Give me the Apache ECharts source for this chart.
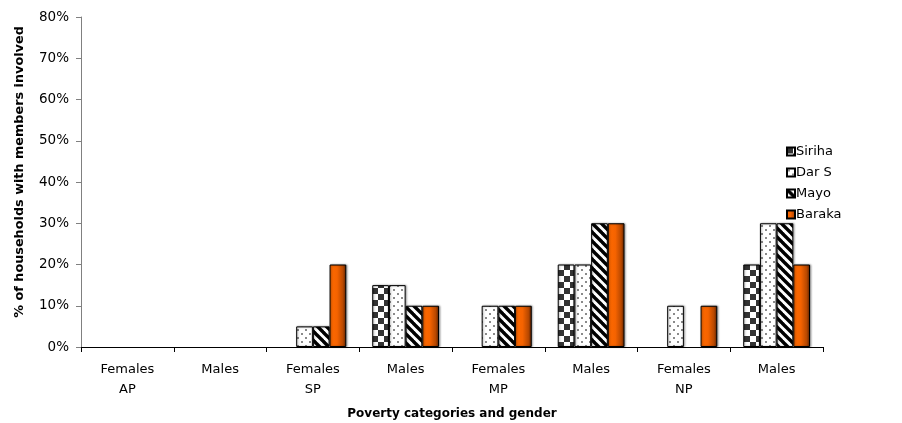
<!DOCTYPE html>
<html>
<head>
<meta charset="utf-8">
<script src="https://cdn.jsdelivr.net/npm/echarts@6/dist/echarts.min.js"></script>
<style>
  html, body { margin: 0; padding: 0; background: #fff; }
  #chart { width: 902px; height: 423px; }
</style>
</head>
<body>
<div id="chart"></div>
<script>
// Share of households with members involved, by poverty category and gender
const categories = ['Females\nAP', 'Males', 'Females\nSP', 'Males', 'Females\nMP', 'Males', 'Females\nNP', 'Males'];
const seriesNames = ['Siriha', 'Dar S', 'Mayo', 'Baraka'];
const siriha = [0, 0, 0, 15, 0, 20, 0, 20];
const darS   = [0, 0, 5, 15, 10, 20, 10, 30];
const mayo   = [0, 0, 5, 10, 10, 30, 0, 30];
const baraka = [0, 0, 20, 10, 10, 30, 10, 20];
const yTicks = [0, 10, 20, 30, 40, 50, 60, 70, 80];

const FONT = '"DejaVu Sans", Arial, sans-serif';

// Tile builders for the patterned fills
function tile(size, draw) {
  const c = document.createElement('canvas');
  c.width = size; c.height = size;
  const ctx = c.getContext('2d');
  ctx.fillStyle = '#fff';
  ctx.fillRect(0, 0, size, size);
  draw(ctx, size);
  return c;
}
const checker = tile(12, (ctx) => {
  ctx.fillStyle = '#333';
  ctx.fillRect(0, 0, 6, 6);
  ctx.fillRect(6, 6, 6, 6);
});
const dots = tile(8, (ctx) => {
  ctx.fillStyle = '#8a8a8a';
  ctx.fillRect(1, 1, 2, 2);
  ctx.fillRect(5, 5, 2, 2);
});
const stripes = tile(9, (ctx, s) => {
  ctx.strokeStyle = '#000';
  ctx.lineWidth = 3.4;
  for (let o = -s; o <= s; o += s) {
    ctx.beginPath();
    ctx.moveTo(o - 1, -1);
    ctx.lineTo(o + s + 1, s + 1);
    ctx.stroke();
  }
});

const orange = new echarts.graphic.LinearGradient(0, 0, 1, 0, [
  { offset: 0, color: '#ff6a00' },
  { offset: 0.45, color: '#f56300' },
  { offset: 0.8, color: '#b84800' },
  { offset: 1, color: '#5e2200' }
]);

const fills = [
  { image: checker, repeat: 'repeat' },
  { image: dots, repeat: 'repeat' },
  { image: stripes, repeat: 'repeat' },
  orange
];
const values = [siriha, darS, mayo, baraka];

// Empty groups are left blank rather than drawn as flat outlines
function barData(list) {
  return list.map(v => v === 0
    ? { value: v, itemStyle: { opacity: 0 } }
    : v);
}

const chart = echarts.init(document.getElementById('chart'), null, { renderer: 'canvas' });

chart.setOption({
  animation: false,
  backgroundColor: '#fff',
  textStyle: { fontFamily: FONT },
  grid: { left: 81, right: 79, top: 17, bottom: 76, containLabel: false, outerBoundsMode: 'none' },
  legend: {
    orient: 'vertical',
    left: 786,
    top: 145,
    padding: 0,
    itemWidth: 8,
    itemHeight: 8,
    itemGap: 8,
    icon: 'rect',
    itemStyle: { shadowBlur: 0, shadowOffsetX: 0 },
    textStyle: { fontFamily: FONT, fontSize: 13, color: '#000', padding: [0, 0, 0, -4] },
    data: seriesNames
  },
  xAxis: {
    type: 'category',
    data: categories,
    boundaryGap: true,
    axisLine: { lineStyle: { color: '#000', width: 1 } },
    axisTick: { show: true, length: 5, lineStyle: { color: '#000' } },
    axisLabel: { fontFamily: FONT, fontSize: 13, color: '#000', margin: 13, lineHeight: 20, interval: 0 },
    name: 'Poverty categories and gender',
    nameLocation: 'middle',
    nameGap: 61,
    nameTextStyle: { fontFamily: FONT, fontSize: 12, fontWeight: 'bold', color: '#000' }
  },
  yAxis: {
    type: 'value',
    min: yTicks[0],
    max: yTicks[yTicks.length - 1],
    interval: yTicks[1] - yTicks[0],
    splitLine: { show: false },
    axisLine: { show: true, lineStyle: { color: '#808080', width: 1 } },
    axisTick: { show: true, length: 5, lineStyle: { color: '#808080' } },
    axisLabel: { fontFamily: FONT, fontSize: 13.5, color: '#000', margin: 12, formatter: '{value}%' },
    name: '% of households with members involved',
    nameLocation: 'middle',
    nameGap: 55,
    nameTextStyle: { fontFamily: FONT, fontSize: 12.8, fontWeight: 'bold', color: '#000', padding: [0, 0, 0, 20] }
  },
  series: seriesNames.map((name, i) => ({
    name: name,
    type: 'bar',
    data: barData(values[i]),
    barGap: '0%',
    barCategoryGap: '28%',
    itemStyle: {
      color: fills[i],
      borderColor: '#000',
      borderWidth: 1,
      shadowColor: 'rgba(0,0,0,0.35)',
      shadowBlur: 2,
      shadowOffsetX: 1,
      shadowOffsetY: 0
    },
    emphasis: { disabled: true }
  }))
});
</script>
</body>
</html>
